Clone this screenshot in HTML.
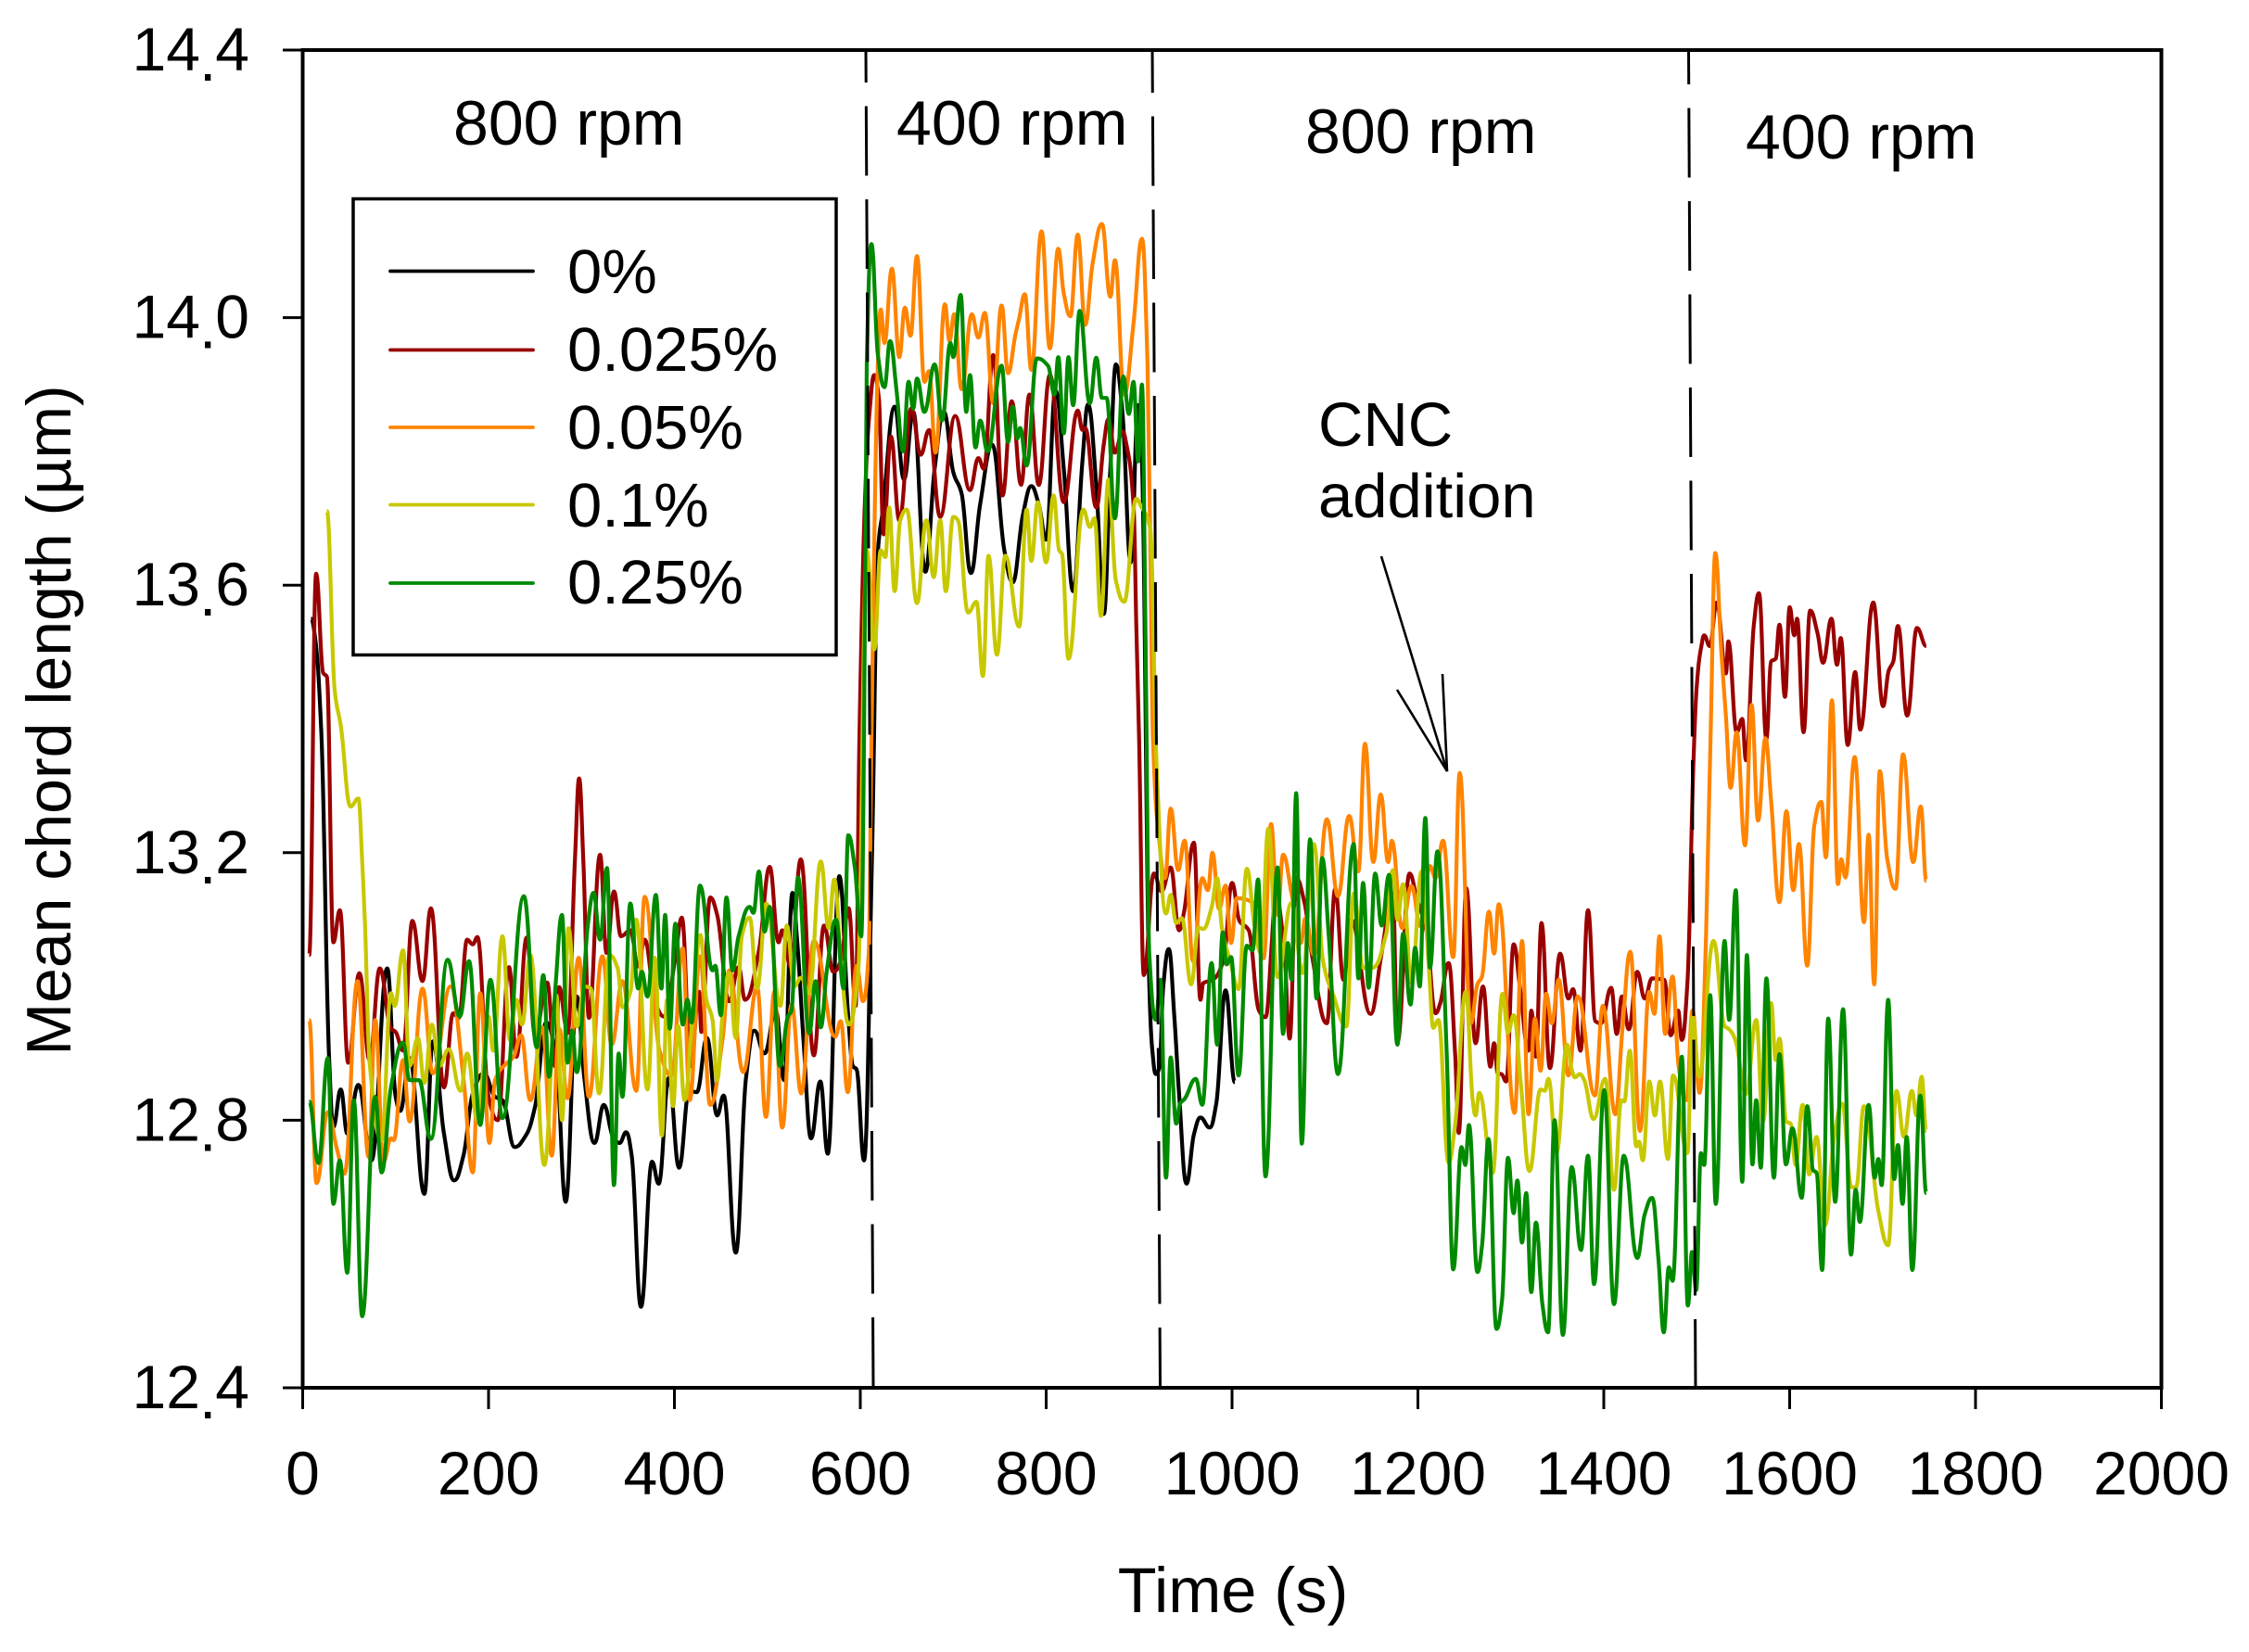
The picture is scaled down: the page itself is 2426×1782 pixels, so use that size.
<!DOCTYPE html>
<html lang="en">
<head>
<meta charset="utf-8">
<title>Mean chord length over time</title>
<style>
html,body{margin:0;padding:0;background:#fff;width:2426px;height:1782px;overflow:hidden}
svg{display:block}
text{font-family:"Liberation Sans",sans-serif;fill:#000}
</style>
</head>
<body>
<svg id="chart" xmlns="http://www.w3.org/2000/svg" width="2426" height="1782" viewBox="0 0 2426 1782">
  <g id="series-layer"></g>
  <g id="divider-layer">
    <line x1="934" y1="54" x2="942" y2="1497" stroke="#000" stroke-width="3" stroke-dasharray="75 25.5" stroke-dashoffset="40"/>
    <line x1="1243" y1="54" x2="1251.5" y2="1497" stroke="#000" stroke-width="3" stroke-dasharray="75 25.5" stroke-dashoffset="29"/>
    <line x1="1821.5" y1="54" x2="1829" y2="1497" stroke="#000" stroke-width="3" stroke-dasharray="75 25.5" stroke-dashoffset="38"/>
  </g>
  <rect x="326.5" y="54" width="2005" height="1443" fill="none" stroke="#000" stroke-width="4"/>
  <g id="axis-layer"></g>
  <text x="1330" y="1739" font-size="68.5" text-anchor="middle">Time (s)</text>
  <text transform="translate(76,777) rotate(-90)" font-size="68" text-anchor="middle">Mean chord length (µm)</text>
  <text x="489" y="156" font-size="68">800 rpm</text>
  <text x="967" y="156" font-size="68">400 rpm</text>
  <text x="1408" y="165" font-size="68">800 rpm</text>
  <text x="1883" y="171" font-size="68">400 rpm</text>
  <text x="1422" y="481" font-size="67">CNC</text>
  <text x="1422" y="558" font-size="67">addition</text>
  <g fill="none" stroke="#000" stroke-width="2.6" stroke-linejoin="miter">
    <line x1="1490" y1="600" x2="1561" y2="832"/>
    <polyline points="1507,744 1561,832 1556,727"/>
  </g>
  <g>
    <rect x="381" y="214.5" width="521" height="492" fill="#fff" stroke="#000" stroke-width="3.5"/>
    <line x1="421" y1="292.5" x2="575" y2="292.5" stroke="#000000" stroke-width="3.8" stroke-linecap="round"/>
    <text x="612" y="316" font-size="67">0%</text>
    <line x1="421" y1="377.5" x2="575" y2="377.5" stroke="#990000" stroke-width="3.8" stroke-linecap="round"/>
    <text x="612" y="400" font-size="67">0.025%</text>
    <line x1="421" y1="461" x2="575" y2="461" stroke="#ff8400" stroke-width="3.8" stroke-linecap="round"/>
    <text x="612" y="484" font-size="67">0.05%</text>
    <line x1="421" y1="544.5" x2="575" y2="544.5" stroke="#c8c800" stroke-width="3.8" stroke-linecap="round"/>
    <text x="612" y="568" font-size="67">0.1%</text>
    <line x1="421" y1="629" x2="575" y2="629" stroke="#008a00" stroke-width="3.8" stroke-linecap="round"/>
    <text x="612" y="651" font-size="67">0.25%</text>
  </g>
</svg>
<script>
const xTickLabels=["0","200","400","600","800","1000","1200","1400","1600","1800","2000"];
const yTickLabels=["12.4","12.8","13.2","13.6","14.0","14.4"];

const timeBlack=[9,13.5,20,28.5,33,41,48,60,74,91,100,105,115,131,140,152,163,173,183,195,207,215,228,240,250,262,273,283,295,303,314,324,334,341,348,354,364,376,383,394,405,416,424,435,446,453,466,477,486,497,509,518,527,532,539,547,557,565,577.5,587,592,596,604,612.5,619,624,637,647,657,670,680,690,700,709,719,729,742,755,764,775,784,792,800,810,819,829,839,845,854,862,869,875,882,891,899,903,911,914,918,922,926,932,938,943,951,959,966,976,983,993,1003];
const valueBlack=[13.55,13.52,13.38,12.89,12.79,12.846,12.78,12.853,12.74,13.027,12.835,12.814,12.893,12.69,12.918,12.78,12.71,12.747,12.84,12.87,12.835,12.83,12.76,12.777,12.82,12.946,12.89,12.678,12.985,12.863,12.766,12.823,12.775,12.766,12.782,12.747,12.521,12.738,12.705,12.863,12.729,12.844,12.842,12.923,12.807,12.837,12.602,12.863,12.934,12.9,12.964,12.86,13.14,13.07,12.918,12.773,12.858,12.75,13.165,12.955,12.881,12.876,12.74,13.186,13.65,13.71,13.867,13.758,13.859,13.62,13.774,13.859,13.769,13.737,13.618,13.721,13.81,13.652,13.604,13.705,13.748,13.721,13.668,13.891,13.774,13.591,13.785,13.87,13.748,13.557,13.774,13.93,13.859,13.634,13.869,13.785,13.0,12.908,12.869,12.88,13.0,13.056,12.954,12.839,12.705,12.779,12.804,12.789,12.825,12.994,12.857];

const timeRed=[7,14.5,22,26,33,40,49,61,72,83,95,100,108,118,129,138,152,162,168,177,183,188,200,210,222,230,241,250,263,272,276,285,293,297.5,302,308,320,327,335,342.5,352.5,361,368,379,389,401,408,417.5,426.5,429,438.5,446,459,469,476,491,502.5,512,516,525,536,550,561,571,579,587.5,595,599,605,610,615,620,625,633,642,655,665,674,686,702,718,727,733,743,753,763,773,782,792,804,819,834,839,842,854,862,867,874,882,887,894,897,900,905,916,924,934,943,948,959,966,969,979,991,1000,1008,1018,1029,1036,1043,1046,1056,1062,1069,1078,1086,1102,1111,1120,1128,1149,1161,1173,1178,1191,1199,1209,1219,1224,1233,1240,1244,1252,1262,1270,1278,1282,1286,1290,1295,1303,1310,1319,1322,1327,1333,1342,1353,1362,1367,1375,1383,1391,1397,1408,1414,1419.5,1427,1436,1444,1452,1465,1472,1480,1484,1490,1496.5,1500,1505,1508,1514,1521.5,1531.5,1534,1543,1549,1553,1561.5,1567,1575,1580,1585,1589,1595,1600,1605,1608,1615,1622,1630,1636,1645,1651,1655,1662.5,1670.5,1676,1690,1700.5,1706.5,1711.5,1716.5,1726.5,1737,1747];
const valueRed=[13.047,13.617,13.469,13.463,13.066,13.114,12.886,13.02,12.89,13.027,12.937,12.932,12.904,13.098,13.008,13.117,12.849,12.96,12.953,13.07,13.063,13.074,12.835,12.8,13.029,12.895,13.073,12.927,13.006,12.88,12.999,12.93,13.19,13.311,13.186,12.953,13.197,13.05,13.142,13.075,13.084,13.03,13.07,12.978,12.955,13.043,13.103,12.881,12.992,12.932,13.133,13.107,12.978,13.029,12.98,13.054,13.179,13.066,13.084,13.03,13.19,12.897,13.091,13.022,13.038,13.117,12.971,13.367,13.726,13.859,13.914,13.88,13.676,13.822,13.697,13.864,13.795,13.832,13.702,13.853,13.742,13.79,13.774,13.944,13.734,13.875,13.75,13.885,13.75,13.914,13.724,13.861,13.832,13.835,13.716,13.811,13.848,13.798,13.83,13.806,13.721,13.541,13.367,13.017,13.169,13.142,13.178,13.084,13.109,13.215,12.98,13.005,13.01,13.04,13.155,13.098,13.084,12.964,12.954,13.07,13.14,13.06,12.922,13.162,13.125,13.047,12.945,13.146,13.01,13.1,12.959,13.05,13.14,12.917,13.169,13.13,13.084,12.96,12.975,13.035,12.9,12.781,13.147,12.915,13.0,12.88,12.915,12.87,12.869,12.858,13.063,12.996,12.904,12.964,12.895,13.095,12.878,13.049,12.982,12.996,12.904,13.114,12.948,12.945,12.998,12.929,12.985,12.936,13.022,12.982,13.012,13.01,12.927,12.964,12.92,13.005,13.334,13.449,13.509,13.525,13.509,13.574,13.468,13.516,13.38,13.4,13.338,13.541,13.588,13.37,13.486,13.49,13.541,13.433,13.567,13.525,13.55,13.38,13.562,13.528,13.484,13.55,13.481,13.521,13.361,13.47,13.384,13.574,13.419,13.472,13.486,13.539,13.405,13.536,13.509];

const timeOrange=[7,15,27,37,45,59,71,78,87,95,98,108,115,129,140,159,173,183,191,201,207,220,227,235,245,258,268,276,285,297,308,322.5,332.5,344,359,368,384,397,409,416.5,427.5,438.5,452,459,474,489,498.5,507.5,516,526,536.5,550,573,579,586.5,596,603,609,612,619,622,626,634,642,648,654,661,669,674,681,691,696,701,709,720,727,734,743,752,759,767,771,777,784,795,804,813,819,826,834,842,850,860,869,874,884,894,903,909,912,915,921,928,934,942,949,958,968,974,979,986,993,999,1005,1023,1034,1042,1049,1055,1064,1074,1079,1088,1102,1114,1126,1136,1143,1152,1160,1168,1172,1183,1193,1203,1213,1219,1227,1238,1245,1257,1264,1269,1276.5,1282,1287,1304,1312,1319,1326,1332,1338,1344,1351.5,1362,1372,1390.5,1399,1412.5,1420,1428.5,1439,1449,1454.5,1460,1466,1474,1480.5,1489,1495.5,1503,1510,1515,1520,1526.5,1531.5,1536.5,1543,1552,1559,1566,1574,1580,1589,1596.5,1604,1610,1619,1626.5,1634,1639,1645.5,1652,1655.5,1660,1670,1680,1685,1691,1697,1705,1714,1722,1733,1741,1747];
const valueOrange=[12.95,12.706,12.812,12.756,12.72,13.008,12.745,12.95,12.738,12.773,12.77,12.89,12.798,12.997,12.87,13.0,12.863,12.722,12.99,12.766,12.86,12.886,12.895,12.927,12.83,12.939,12.747,12.937,12.833,13.043,12.835,13.045,12.913,13.008,12.844,13.134,12.904,12.867,13.057,12.83,13.045,12.823,12.923,13.024,12.872,12.999,12.805,12.992,12.789,12.973,12.84,13.068,12.925,12.948,12.842,13.031,12.978,13.047,13.367,13.933,14.012,13.962,14.073,13.941,14.015,13.973,14.092,13.904,13.92,13.798,14.02,13.965,14.005,13.893,14.005,13.97,14.007,13.872,14.018,13.917,13.975,13.999,14.035,13.922,14.129,13.954,14.103,14.036,14.002,14.124,13.989,14.081,14.14,14.031,14.086,13.885,13.991,14.118,13.933,13.668,13.367,13.227,13.162,13.266,13.174,13.218,13.038,13.162,13.144,13.2,13.116,13.151,13.065,13.132,13.125,13.042,13.243,13.107,13.197,13.139,13.065,13.102,13.047,13.25,13.135,13.255,13.172,13.363,13.186,13.287,13.186,13.218,13.087,13.15,13.09,13.18,13.162,13.218,13.044,13.319,12.945,13.003,13.015,13.112,13.049,13.123,12.811,13.068,12.809,12.952,12.874,12.989,12.945,13.01,12.867,12.985,12.837,12.971,12.809,12.934,13.052,12.784,12.992,12.959,13.075,12.929,13.015,12.881,12.83,12.964,12.841,13.075,13.38,13.648,13.5,13.403,13.297,13.38,13.211,13.421,13.248,13.371,13.278,13.126,13.262,13.144,13.213,13.031,13.241,13.276,13.193,13.428,13.153,13.19,13.163,13.343,13.096,13.227,13.003,13.322,13.19,13.146,13.347,13.186,13.269,13.158];

const timeYellow=[26,34.5,41,51.5,60,64,67,72,85,95,99,108,115,124,131,139,147,157,170,177,188,200,205,215,223,230,236,245,260,273,279,286,295,303,310,319,330,339,344,353,359,371,379,386.5,392,398.5,404,411,419,428,434,441,446,452,459,466,472.5,481,489,499,514,521,529,536,545,557.5,566,572,580,587.5,597.5,607,615,622,627,631,637,643,650,661,671,679,686,692,700,705,716,725,732,738,747,756,771,779,784,791,800,808,814,817,824,840,847,852,859,867,875,884,897,902,912,919,929,934,940,946,956,964,969,978,984,989,998,1007,1016,1024,1031,1039,1049,1064,1076,1088,1098,1109,1123,1131,1141,1151,1166,1173,1178,1184,1193,1204,1212,1216.5,1222,1233,1240,1251.5,1259,1262,1266,1280.5,1291,1297,1303,1311,1320,1332,1336.5,1340.5,1349,1360.5,1365.5,1369,1374,1379,1389,1401.5,1411,1419,1422,1428,1435,1438,1442,1449,1455,1460.5,1469,1474.5,1490,1495.5,1502.5,1518,1530,1535,1541.5,1553,1564,1571.5,1580,1585,1589,1596.5,1601,1606.5,1614,1621,1629,1638,1648,1656.5,1666.5,1671.5,1680,1695.5,1706,1715,1723,1731.5,1736.5,1742,1747];
const valueYellow=[13.711,13.442,13.39,13.269,13.281,13.187,13.094,12.886,12.77,12.99,12.971,13.054,12.881,12.923,12.856,12.943,12.881,12.906,12.844,12.9,12.8,12.955,12.904,13.075,12.92,12.98,12.943,13.047,12.733,12.987,12.8,13.087,12.94,13.0,12.997,12.84,13.047,13.027,12.969,12.994,13.1,12.846,13.043,12.777,12.98,12.821,12.941,12.83,12.946,13.077,12.983,12.95,12.86,12.96,13.02,12.923,13.075,13.103,12.997,13.124,12.971,13.091,13.0,13.013,12.99,13.187,13.087,13.16,13.02,12.943,13.017,13.652,13.504,13.652,13.642,13.716,13.591,13.697,13.713,13.573,13.697,13.612,13.697,13.591,13.702,13.697,13.559,13.575,13.464,13.644,13.496,13.644,13.538,13.713,13.636,13.724,13.634,13.734,13.652,13.647,13.49,13.713,13.687,13.7,13.554,13.758,13.607,13.575,13.729,13.718,13.684,13.324,13.109,13.137,13.095,13.102,13.003,13.088,13.086,13.118,13.162,13.088,13.038,12.996,13.176,13.093,13.05,13.236,13.014,13.125,13.02,13.213,13.038,12.987,12.94,13.139,13.028,13.028,13.079,13.174,13.1,13.153,13.005,13.172,13.024,12.938,12.95,12.737,12.793,12.992,12.83,12.807,12.841,12.721,12.989,12.931,12.957,12.85,12.724,12.846,12.844,12.862,12.751,12.913,12.876,12.864,12.869,12.86,12.802,12.862,12.696,12.83,12.828,12.904,12.761,12.768,12.74,12.858,12.807,12.858,12.742,12.867,12.751,12.955,12.865,13.068,12.941,12.936,12.92,12.839,12.95,12.798,12.975,12.89,12.922,12.798,12.795,12.733,12.823,12.719,12.775,12.643,12.775,12.825,12.7,12.7,12.821,12.664,12.613,12.844,12.775,12.844,12.807,12.865,12.784];

const timeGreen=[7,17,27,33,40,48,55,64,78,85,95,108,115,125,138,156,169,179,191,202,215,238,252,259,265,272,279,285,290,295,307,313,320,327.5,335,340,344,352.5,361,365,371,380,386,390,395,401,409,414,418.5,427.5,441,444,450,456,462.5,469,481,485,491,497,502.5,513.5,522,526,533,545,552,557.5,564,574,582,587,594,601,604,607,612,619,626,632,639,646,652,657,661,669,680,688,697,700,708,714,718,724,729,737,752,759,764,769,772,779,790,802,809,813,819,824,829,836,847,854,860,865,874,883,889,894,899,903,907,911,918,923,929,934,940,944,949,961,968,978,984,990,994,999,1007,1016,1022,1028,1036,1049,1055,1060,1064,1069,1075,1084,1091,1097,1104,1114,1131,1136,1141,1147,1154,1161,1169,1178,1184,1192,1197,1202,1208,1213,1221,1231,1238,1247,1251,1255,1264,1269,1276,1284.5,1290.5,1297,1303,1307,1312,1316.5,1322,1327,1334,1340,1347,1356,1365.5,1375.5,1383,1389.5,1400.5,1411,1421.5,1436,1444,1452,1459,1464.5,1470,1474,1484,1490.5,1495,1499.5,1504.5,1508,1514.5,1520.5,1530,1535,1542,1549,1554,1560,1564,1569,1575,1583,1589,1596,1603,1613,1619,1625,1629,1635,1641.5,1649,1657.5,1666,1671,1675.5,1685,1691.5,1695.5,1699,1706,1712.5,1716.5,1721.5,1726,1732,1740.5,1747];
const valueGreen=[12.828,12.736,12.893,12.675,12.74,12.572,12.83,12.507,12.835,12.722,12.849,12.916,12.86,12.86,12.772,13.04,12.955,13.038,12.793,13.01,12.803,13.135,12.909,13.017,12.865,13.0,13.107,12.886,12.934,12.872,13.094,13.14,13.07,13.177,12.703,12.9,12.835,13.124,12.997,13.022,12.985,13.137,12.997,13.107,12.937,13.094,12.943,12.98,12.946,13.151,13.024,13.031,12.957,13.133,13.024,13.075,13.119,13.11,13.172,13.082,13.119,12.881,12.955,12.964,13.163,12.93,13.008,12.939,13.024,13.1,12.997,13.226,13.179,13.075,13.367,13.933,14.11,13.944,13.896,13.965,13.891,13.8,13.904,13.864,13.909,13.859,13.93,13.846,13.962,13.941,14.034,13.859,13.914,13.806,13.846,13.8,13.928,13.814,13.867,13.819,13.835,13.779,13.939,13.928,13.885,13.941,13.827,13.941,13.869,14.01,13.872,13.94,13.88,13.88,13.7,13.912,13.856,13.904,13.785,13.9,13.509,13.047,12.95,13.01,12.714,12.894,12.795,12.825,12.832,12.862,12.823,13.035,12.913,13.081,13.033,13.044,12.867,13.061,13.054,13.16,12.716,13.178,12.929,13.065,13.01,13.289,12.765,13.22,12.982,13.192,13.077,12.869,13.213,13.012,13.155,12.998,13.169,13.091,13.167,12.913,13.079,12.973,13.058,13.0,13.252,13.028,13.202,12.899,12.577,12.76,12.733,12.793,12.573,12.613,12.772,12.488,12.53,12.744,12.661,12.71,12.617,12.691,12.543,12.647,12.525,12.483,12.8,12.479,12.73,12.606,12.747,12.555,12.845,12.525,12.747,12.594,12.659,12.684,12.59,12.483,12.58,12.56,12.895,12.523,12.603,12.546,12.751,12.733,12.987,12.675,13.068,12.95,13.144,12.708,13.047,12.734,12.83,12.729,13.012,12.714,12.899,12.734,12.788,12.684,12.821,12.726,12.721,12.576,12.952,12.678,12.966,12.599,12.696,12.648,12.823,12.714,12.742,12.703,12.98,12.712,12.763,12.675,12.775,12.576,12.837,12.691];

const NS="http://www.w3.org/2000/svg";
const xScale=function(t){return 326.5+(t/2000)*2005;};
const yScale=function(v){return 1497-((v-12.4)/2)*1443;};

function curvePath(ts,vs){
  const n=Math.min(ts.length,vs.length);
  const px=[],py=[];
  for(let i=0;i<n;i++){px.push(xScale(ts[i]));py.push(yScale(vs[i]));}
  const m=[];
  for(let i=0;i<n;i++){
    if(i===0||i===n-1){m.push(0);continue;}
    const h0=px[i]-px[i-1],h1=px[i+1]-px[i];
    const s0=(py[i]-py[i-1])/h0,s1=(py[i+1]-py[i])/h1;
    if(s0*s1<=0){m.push(0);}
    else{m.push(2*s0*s1/(s0+s1));}
  }
  let d="M"+px[0].toFixed(1)+" "+py[0].toFixed(1);
  for(let i=0;i<n-1;i++){
    const h=(px[i+1]-px[i])/2.4;
    d+="C"+(px[i]+h).toFixed(1)+" "+(py[i]+m[i]*h).toFixed(1)+" "+(px[i+1]-h).toFixed(1)+" "+(py[i+1]-m[i+1]*h).toFixed(1)+" "+px[i+1].toFixed(1)+" "+py[i+1].toFixed(1);
  }
  return d;
}

const seriesLayer=document.getElementById("series-layer");
const axisLayer=document.getElementById("axis-layer");

function addSeries(name,ts,vs,color){
  const p=document.createElementNS(NS,"path");
  p.setAttribute("d",curvePath(ts,vs));
  p.setAttribute("fill","none");
  p.setAttribute("stroke",color);
  p.setAttribute("stroke-width","4.2");
  p.setAttribute("stroke-linejoin","round");
  
  
  seriesLayer.appendChild(p);
}
addSeries("series-0-percent",timeBlack,valueBlack,"#000000");
addSeries("series-0-025-percent",timeRed,valueRed,"#990000");
addSeries("series-0-05-percent",timeOrange,valueOrange,"#ff8400");
addSeries("series-0-1-percent",timeYellow,valueYellow,"#c8c800");
addSeries("series-0-25-percent",timeGreen,valueGreen,"#008a00");

xTickLabels.forEach(function(lab){
  const x=xScale(parseFloat(lab));
  const tick=document.createElementNS(NS,"line");
  tick.setAttribute("x1",x);tick.setAttribute("x2",x);
  tick.setAttribute("y1",1497);tick.setAttribute("y2",1520);
  tick.setAttribute("stroke","#000");tick.setAttribute("stroke-width","3");
  
  
  axisLayer.appendChild(tick);
  const t=document.createElementNS(NS,"text");
  t.setAttribute("x",x);t.setAttribute("y",1612);
  t.setAttribute("font-size","66");t.setAttribute("text-anchor","middle");
  t.textContent=lab;
  
  
  axisLayer.appendChild(t);
});

yTickLabels.forEach(function(lab){
  const y=yScale(parseFloat(lab));
  const tick=document.createElementNS(NS,"line");
  tick.setAttribute("x1",305);tick.setAttribute("x2",326.5);
  tick.setAttribute("y1",y);tick.setAttribute("y2",y);
  tick.setAttribute("stroke","#000");tick.setAttribute("stroke-width","3");
  
  
  axisLayer.appendChild(tick);
  const parts=lab.split(".");
  const t=document.createElementNS(NS,"text");
  t.setAttribute("x",269);t.setAttribute("y",y+22);
  t.setAttribute("font-size","66");t.setAttribute("text-anchor","end");
  
  
  const a=document.createElementNS(NS,"tspan");
  a.textContent=parts[0];
  const b=document.createElementNS(NS,"tspan");
  b.setAttribute("dy","11");b.setAttribute("dx","-1");
  b.textContent=".";
  const c=document.createElementNS(NS,"tspan");
  c.setAttribute("dy","-11");c.setAttribute("dx","-1");
  c.textContent=parts[1];
  t.appendChild(a);t.appendChild(b);t.appendChild(c);
  axisLayer.appendChild(t);
});
</script>
</body>
</html>
